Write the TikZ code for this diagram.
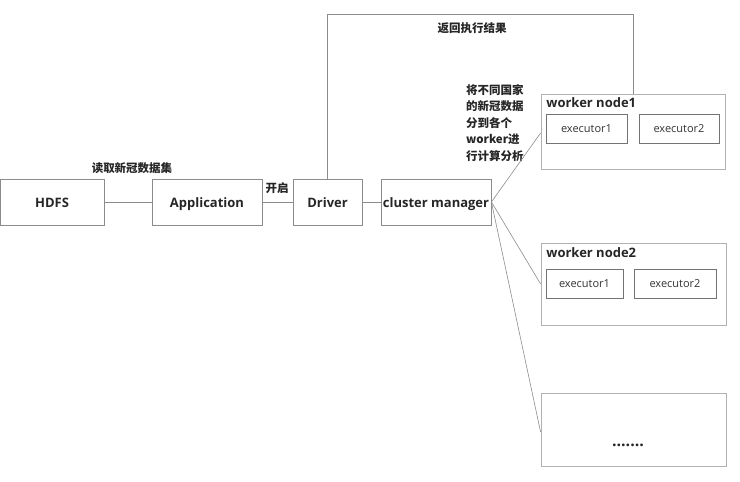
\documentclass[tikz,border=0pt]{standalone}
\usepackage{fontspec}
\setmainfont{Open Sans}
\newfontfamily\cjk{Noto Sans CJK SC}
\usetikzlibrary{positioning,calc}

\begin{document}
\begin{tikzpicture}[x=1pt,y=-1pt,
         box/.style = {draw=black!45,line width=0.8pt,text=black!85,
         font=\fontsize{13}{15}\selectfont\bfseries,inner sep=0pt,
         text height=11pt,text depth=1pt},
         node/.style = {draw=black!30,line width=0.8pt},
         exec/.style = {draw=black!55,line width=0.8pt,text=black!80,
         font=\fontsize{11}{13}\selectfont,inner sep=0pt},
         wire/.style = {draw=black!45,line width=0.6pt},
         note/.style = {text=black!85,font=\cjk\fontsize{11.5}{16.5}\selectfont\bfseries,
         inner sep=0pt}
]
      \useasboundingbox (0,0) rectangle (740,482);

      \node[box,minimum width=104,minimum height=46] (hdfs) at (52,202) {HDFS};
      \node[box,minimum width=110,minimum height=46] (app) at (207,202) {Application};
      \node[box,minimum width=69,minimum height=46] (driver) at (327.5,202) {Driver};
      \node[box,minimum width=110,minimum height=46] (cm) at (436,202) {cluster manager};

      \node[node,minimum width=184,minimum height=75] (w1) at (633,131.5) {};
      \node[box,draw=none,anchor=west] (w1t) at (546,102) {worker node1};
      \node[exec,minimum width=81,minimum height=29] (w1e1) at (586.5,128.5) {executor1};
      \node[exec,minimum width=80,minimum height=29] (w1e2) at (679,128.5) {executor2};

      \node[node,minimum width=185,minimum height=82] (w2) at (633.5,284) {};
      \node[box,draw=none,anchor=west] (w2t) at (546,252) {worker node2};
      \node[exec,minimum width=77,minimum height=29] (w2e1) at (584.5,283.5) {executor1};
      \node[exec,minimum width=82,minimum height=29] (w2e2) at (675,283.5) {executor2};

      \node[node,minimum width=185,minimum height=73] (w3) at (633.5,429.5) {};
      \node[box,draw=none,font=\fontsize{16}{16}\selectfont\bfseries] (w3t) at (628,441) {.......};

      \node[note] (read) at (132,168) {读取新冠数据集};
      \node[note] (start) at (277,188) {开启};
      \node[note] (back) at (472,28) {返回执行结果};
      \node[note,align=left,anchor=north west] (split) at (466,84)
         {将不同国家\\的新冠数据\\分到各个\\worker进\\行计算分析};

      \coordinate (top) at (0,14);

      \draw[wire] (hdfs) -- (app);
      \draw[wire] (app) -- (driver);
      \draw[wire] (driver) -- (cm);
      \draw[wire] (driver.north) -- (driver.north |- top) -| (w1.north);
      %\draw[wire] (cm.east) -- (w1.west);
      \draw[wire] (cm.east) -- ($(w1.west)+(0,1.5)$);
      \draw[wire] (cm.east) -- (w2.west);
      \draw[wire] (cm.east) -- ($(w3.west)+(0,2.5)$);
\end{tikzpicture}
\end{document}
